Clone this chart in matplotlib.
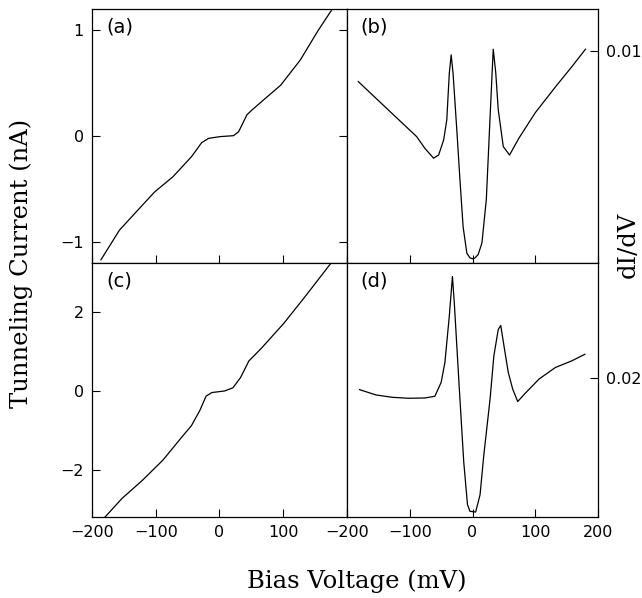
import matplotlib
matplotlib.use("Agg")
import matplotlib.pyplot as plt

# (a) tunneling current, nA
bias_a = [-186, -157, -125, -102, -73, -44, -36, -28, -17, 1, 22, 30, 43, 51, 69, 96, 127, 154, 177]
current_a = [-1.17, -0.89, -0.68, -0.53, -0.385, -0.196, -0.13, -0.063, -0.022, -0.006, 0.003, 0.04,
             0.20, 0.246, 0.34, 0.48, 0.72, 0.99, 1.2]

# (b) dI/dV
bias_b = [-182, -137, -89, -76, -62, -54, -46, -41, -37, -34, -31, -25, -20, -15, -9, -4, 0, 4, 9,
          15, 22, 28, 33, 37, 41, 49, 59, 74, 100, 133, 159, 180]
didv_b = [0.00857, 0.00731, 0.00597, 0.00542, 0.00495, 0.0051, 0.00581, 0.00676, 0.00896, 0.00983,
          0.00896, 0.00628, 0.00392, 0.00171, 0.00046, 0.00024, 0.0002, 0.00024, 0.0004,
          0.00094, 0.0030, 0.0069, 0.0101, 0.0090, 0.00724, 0.0055, 0.0051, 0.0059, 0.0071,
          0.00835, 0.0093, 0.0101]

# (c) tunneling current, nA
bias_c = [-180, -153, -121, -89, -57, -44, -31, -21, -12, 8, 21, 33, 46, 66, 101, 130, 144, 175]
current_c = [-3.21, -2.73, -2.27, -1.76, -1.13, -0.88, -0.5, -0.13, -0.04, 0.0, 0.08, 0.34, 0.76,
             1.09, 1.72, 2.31, 2.6, 3.25]

# (d) dI/dV
bias_d = [-180, -154, -128, -102, -76, -60, -50, -44, -37, -32, -29, -21, -14, -8, -4, 5, 12, 18,
          28, 34, 41, 45, 51, 57, 64, 72, 83, 106, 132, 158, 179]
didv_d = [0.0183, 0.01754, 0.0172, 0.01706, 0.0171, 0.01735, 0.01934, 0.0222, 0.02885, 0.03455,
          0.03075, 0.01839, 0.00794, 0.00176, 0.00081, 0.00071, 0.00318, 0.00889, 0.01697, 0.02314,
          0.02695, 0.02752, 0.0241, 0.02077, 0.01839, 0.01659, 0.01768, 0.01982, 0.02148, 0.02243,
          0.02338]

xticks = [-200, -100, 0, 100, 200]

fig = plt.figure(figsize=(6.42, 5.98), dpi=100)
x0, xm, x1 = 0.1433, 0.5405, 0.9315
y0, ym, y1 = 0.1355, 0.5602, 0.985
ax_a = fig.add_axes([x0, ym, xm - x0, y1 - ym])
ax_b = fig.add_axes([xm, ym, x1 - xm, y1 - ym])
ax_c = fig.add_axes([x0, y0, xm - x0, ym - y0])
ax_d = fig.add_axes([xm, y0, x1 - xm, ym - y0])

ax_a.plot(bias_a, current_a, color="black", lw=0.9)
ax_b.plot(bias_b, didv_b, color="black", lw=0.9)
ax_c.plot(bias_c, current_c, color="black", lw=0.9)
ax_d.plot(bias_d, didv_d, color="black", lw=0.9)

for ax in (ax_a, ax_b, ax_c, ax_d):
    ax.set_xlim(-200, 200)
    ax.set_xticks(xticks)
    ax.tick_params(direction="in", length=6, width=0.8, labelsize=11.5, pad=6)
    for s in ax.spines.values():
        s.set_linewidth(0.9)

ax_a.set_ylim(-1.2, 1.2)
ax_a.set_yticks([-1, 0, 1])
ax_a.set_yticklabels(["\u22121", "0", "1"])
ax_a.tick_params(right=True, labelbottom=False)

ax_c.set_ylim(-3.2, 3.25)
ax_c.set_yticks([-2, 0, 2])
ax_c.set_yticklabels(["\u22122", "0", "2"])
ax_c.set_xticklabels(["\u2212200", "\u2212100", "0", "100", ""])

ax_b.set_ylim(0, 0.012)
ax_b.set_yticks([0.01])
ax_b.set_yticklabels(["0.01"])
ax_b.tick_params(left=False, right=True, labelleft=False, labelright=True, labelbottom=False)

ax_d.set_ylim(0, 0.0365)
ax_d.set_yticks([0.02])
ax_d.set_yticklabels(["0.02"])
ax_d.tick_params(left=False, right=True, labelleft=False, labelright=True)
ax_d.set_xticklabels(["\u2212200", "\u2212100", "0", "100", "200"])

for ax, lab in zip((ax_a, ax_b, ax_c, ax_d), ("(a)", "(b)", "(c)", "(d)")):
    ax.text(0.055, 0.965, lab, transform=ax.transAxes, fontsize=14, va="top", ha="left")

serif = ["DejaVu Serif"]
fig.text(0.033, 0.56, "Tunneling Current (nA)", rotation=90, fontsize=17.5, family=serif,
         ha="center", va="center")
fig.text(0.556, 0.028, "Bias Voltage (mV)", fontsize=17.5, family=serif, ha="center", va="center")
fig.text(0.979, 0.59, "dI/dV", rotation=90, fontsize=17.5, family=serif, ha="center", va="center")

fig.savefig("out.png", dpi=100)
